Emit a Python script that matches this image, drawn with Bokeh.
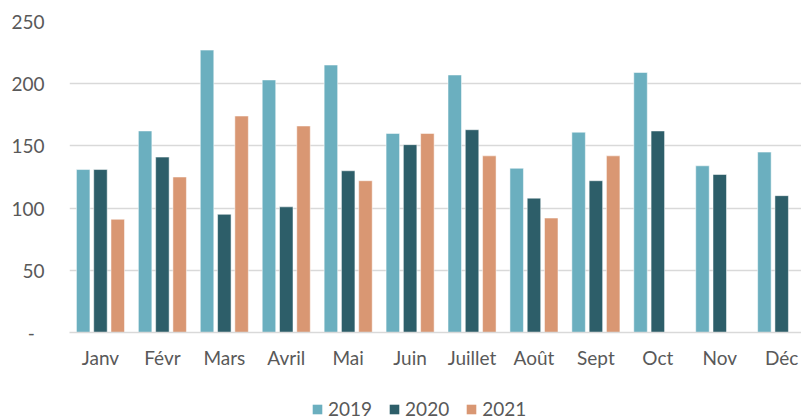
from bokeh.plotting import figure
from bokeh.models import ColumnDataSource, FixedTicker, Legend, LegendItem, Range1d
from bokeh.layouts import column
from bokeh.transform import dodge
from bokeh.embed import file_html
from bokeh.resources import INLINE

months = ["Janv", "Févr", "Mars", "Avril", "Mai", "Juin", "Juillet", "Août", "Sept", "Oct", "Nov", "Déc"]
v2019 = [131, 162, 227, 203, 215, 160, 207, 132, 161, 209, 134, 145]
v2020 = [131, 141, 95, 101, 130, 151, 163, 108, 122, 162, 127, 110]
v2021 = [91, 125, 174, 166, 122, 160, 142, 92, 142, float("nan"), float("nan"), float("nan")]
years = ["2019", "2020", "2021"]
colors = ["#6BAFBF", "#2D5E69", "#D99773"]
y_ticks = [0, 50, 100, 150, 200, 250]

xpos = [i + 0.5 for i in range(len(months))]
src = ColumnDataSource(dict(x=xpos, a=v2019, b=v2020, c=v2021))

FONT = "Lato"
TXT = "#595959"
FS = "19px"

p = figure(x_range=Range1d(0, 11.82), y_range=Range1d(0, 250),
           frame_width=732, frame_height=311, output_backend="svg", toolbar_location=None,
           min_border_left=69, min_border_right=0, min_border_top=21, min_border_bottom=56)

for col, off, color in zip(["a", "b", "c"], [-0.279, 0.0, 0.279], colors):
    p.vbar(x=dodge("x", off), top=col, width=0.218, source=src,
           fill_color=color, line_color="white", line_alpha=0.5, line_width=1)

p.outline_line_color = None
p.xgrid.grid_line_color = None
p.ygrid.grid_line_color = "#D9D9D9"
p.ygrid.grid_line_width = 1.5
p.yaxis.ticker = FixedTicker(ticks=y_ticks)
p.yaxis.major_label_overrides = {0: "-\u00a0\u00a0"}
p.yaxis.axis_line_color = None
p.yaxis.major_tick_line_color = None
p.yaxis.minor_tick_line_color = None
p.yaxis.major_label_standoff = 19
p.xaxis.ticker = FixedTicker(ticks=xpos)
p.xaxis.major_label_overrides = {x: m for x, m in zip(xpos, months)}
p.xaxis.axis_line_color = "#D9D9D9"
p.xaxis.axis_line_width = 1.5
p.xaxis.major_tick_line_color = None
p.xaxis.minor_tick_line_color = None
p.xaxis.major_label_standoff = 7
for ax in (p.xaxis, p.yaxis):
    ax.major_label_text_font = FONT
    ax.major_label_text_font_size = FS
    ax.major_label_text_color = TXT

# legend strip below the chart (frame aligned with the chart's frame)
lg = figure(x_range=Range1d(0, 1), y_range=Range1d(0, 1), width=801, height=32,
            output_backend="svg", toolbar_location=None, min_border=0)
lg.axis.visible = False
lg.grid.grid_line_color = None
lg.outline_line_color = None
dummies = []
for color in colors:
    # placeholder renderer outside the visible range, only used for the legend swatch
    dummies.append(lg.vbar(x=[-10], top=[0], width=0.1, fill_color=color, line_color=None))
legend = Legend(items=[LegendItem(label=y, renderers=[r]) for y, r in zip(years, dummies)],
                orientation="horizontal", location=(242, 0),
                label_text_font=FONT, label_text_font_size=FS, label_text_color=TXT,
                glyph_width=12, glyph_height=12, spacing=16, label_standoff=5,
                border_line_color=None, background_fill_alpha=0, margin=0, padding=0)
lg.add_layout(legend, "center")

open("out.html", "w").write(file_html(column(p, lg, spacing=0), INLINE))
